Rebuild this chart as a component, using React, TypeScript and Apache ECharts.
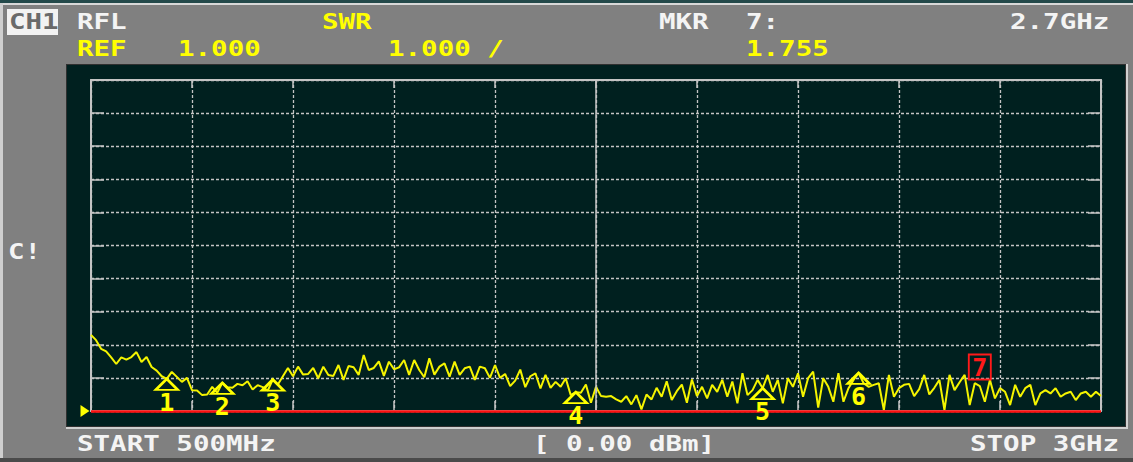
import React, { useEffect, useRef } from "react";
import * as echarts from "echarts";

// Sweep definition
const START_MHZ = 500;
const STOP_MHZ = 3000;
const STEP_MHZ = 12.5;
const X_DIV_MHZ = 250;

// SWR scale
const REF_VALUE = 1.0;
const Y_MAX = 11;
const Y_DIV = 1;

// Trace values (SWR), one per 12.5 MHz step, 500 MHz .. 3 GHz
const swrValues: number[] = [
  3.30, 3.14, 2.88, 2.80, 2.62, 2.42, 2.62, 2.55, 2.63, 2.78,
  2.48, 2.63, 2.33, 2.22, 2.05, 1.97, 2.18, 2.03, 1.88, 2.00,
  1.63, 1.62, 1.48, 1.50, 1.73, 1.55, 1.85, 1.72, 1.70, 1.82,
  1.78, 1.90, 1.65, 1.78, 1.72, 1.62, 1.95, 1.80, 2.05, 2.30,
  2.05, 2.34, 2.10, 2.12, 2.30, 1.99, 2.34, 2.09, 2.06, 2.39,
  1.94, 2.36, 2.32, 2.09, 2.69, 2.24, 2.30, 2.50, 2.06, 2.49,
  2.26, 2.32, 2.54, 2.09, 2.54, 2.24, 2.02, 2.59, 2.10, 2.34,
  2.44, 2.04, 2.49, 2.09, 2.29, 2.34, 1.94, 2.34, 2.29, 2.00,
  2.39, 2.00, 2.12, 1.75, 1.92, 2.25, 1.72, 2.05, 2.14, 1.68,
  2.09, 1.70, 1.88, 1.73, 1.99, 1.48, 1.57, 1.55, 1.80, 1.25,
  1.73, 1.45, 1.43, 1.45, 1.35, 1.28, 1.45, 1.20, 1.48, 1.05,
  1.50, 1.35, 1.70, 1.43, 1.90, 1.33, 1.60, 1.80, 1.25, 1.95,
  1.45, 1.73, 1.38, 1.79, 1.58, 1.94, 1.43, 1.89, 1.23, 2.14,
  1.48, 1.63, 1.94, 1.69, 2.09, 1.58, 1.94, 1.23, 1.99, 1.73,
  2.14, 1.43, 1.99, 2.19, 1.10, 1.99, 1.73, 1.28, 2.14, 1.28,
  1.69, 1.94, 2.15, 1.84, 1.73, 1.79, 1.84, 1.03, 2.09, 1.43,
  1.69, 1.79, 1.82, 1.45, 1.66, 2.09, 1.50, 1.70, 1.94, 1.03,
  2.09, 1.63, 1.87, 2.09, 1.18, 1.84, 1.755, 1.28, 1.94, 1.38,
  1.69, 1.58, 1.18, 1.79, 1.43, 1.69, 1.79, 1.18, 1.53, 1.63,
  1.53, 1.69, 1.43, 1.53, 1.58, 1.33, 1.53, 1.58, 1.43, 1.58,
  1.45,
];

// Markers
const markerFreqs: number[] = [687.5, 825, 950, 1700, 2162.5, 2400, 2700];
const markerNames: string[] = ["1", "2", "3", "4", "5", "6", "7"];
const ACTIVE_MARKER = "7";

// Header / footer texts
const TXT_CH = "CH1";
const TXT_MEAS = "RFL";
const TXT_FMT = "SWR";
const TXT_MKR = "MKR";
const TXT_MKR_NO = "7:";
const TXT_MKR_FREQ = "2.7GHz";
const TXT_REF = "REF";
const TXT_REF_VAL = "1.000";
const TXT_SCALE = "1.000 /";
const TXT_MKR_VAL = "1.755";
const TXT_START = "START 500MHz";
const TXT_POWER = "[ 0.00 dBm]";
const TXT_STOP = "STOP 3GHz";
const TXT_CAL = "C!";

const YELLOW = "#ffff00";
const TRACE = "#f4f400";
const WHITE = "#f4f4f4";
const GRID = "#c4c4c4";
const PANEL = "#00201f";
const BG = "#808080";
const FONT = '"DejaVu Sans Mono", monospace';

function txt(text: string, x: number, y: number, color: string, size = 21) {
  return {
    type: "text",
    x,
    y,
    scaleX: 1.31,
    z: 10,
    style: {
      text,
      fill: color,
      font: `bold ${size}px ${FONT}`,
      textAlign: "left",
      textVerticalAlign: "middle",
      verticalAlign: "middle",
    },
  };
}

export default function App() {
  const ref = useRef<HTMLDivElement>(null);

  useEffect(() => {
    if (!ref.current) return;
    const chart = echarts.init(ref.current, undefined, { renderer: "svg" });

    const traceData = swrValues.map((v, i) => [START_MHZ + i * STEP_MHZ, v]);
    const valueAt = (f: number) => swrValues[Math.round((f - START_MHZ) / STEP_MHZ)];

    const normalMarkers = markerFreqs
      .map((f, k) => ({ name: markerNames[k], value: [f, valueAt(f)] }))
      .filter((m) => m.name !== ACTIVE_MARKER);
    const activeMarkers = markerFreqs
      .map((f, k) => ({ name: markerNames[k], value: [f, valueAt(f)] }))
      .filter((m) => m.name === ACTIVE_MARKER);

    const axisCommon = {
      type: "value",
      axisLabel: { show: false },
      axisLine: { show: true, onZero: false, lineStyle: { color: GRID, width: 2 } },
      axisTick: { show: true, inside: true, length: 10, lineStyle: { color: GRID, width: 1.5 } },
    };

    const option: any = {
      animation: false,
      backgroundColor: BG,
      grid: { left: 91, right: 32, top: 80, bottom: 51, show: false },
      xAxis: [
        {
          ...axisCommon,
          min: START_MHZ,
          max: STOP_MHZ,
          interval: X_DIV_MHZ,
          position: "bottom",
          splitLine: { show: true, lineStyle: { color: GRID, type: [3, 2], width: 1.3 } },
        },
        {
          ...axisCommon,
          min: START_MHZ,
          max: STOP_MHZ,
          interval: X_DIV_MHZ,
          position: "top",
          axisTick: { ...axisCommon.axisTick, length: 8 },
          splitLine: { show: false },
        },
      ],
      yAxis: [
        {
          ...axisCommon,
          min: REF_VALUE,
          max: Y_MAX,
          interval: Y_DIV,
          position: "left",
          axisTick: { ...axisCommon.axisTick, length: 13 },
          splitLine: { show: true, lineStyle: { color: GRID, type: [3, 2], width: 1.3 } },
        },
        {
          ...axisCommon,
          min: REF_VALUE,
          max: Y_MAX,
          interval: Y_DIV,
          position: "right",
          axisTick: { ...axisCommon.axisTick, length: 13 },
          splitLine: { show: false },
        },
      ],
      graphic: [
        // outer bevels
        { type: "rect", z: -5, shape: { x: 0, y: 0, width: 1133, height: 3 }, style: { fill: "#23494a" } },
        { type: "rect", z: -5, shape: { x: 0, y: 3, width: 1133, height: 2 }, style: { fill: "#d8d8d8" } },
        { type: "rect", z: -5, shape: { x: 0, y: 3, width: 3, height: 459 }, style: { fill: "#cfcfcf" } },
        { type: "rect", z: -5, shape: { x: 0, y: 458, width: 1133, height: 4 }, style: { fill: "#4a4a4a" } },
        // plot panel
        { type: "rect", z: -5, shape: { x: 66, y: 64, width: 1062, height: 365 }, style: { fill: "#d0d0d0" } },
        { type: "rect", z: -5, shape: { x: 66, y: 64, width: 1060, height: 363 }, style: { fill: "#303030" } },
        { type: "rect", z: -4, shape: { x: 67, y: 65, width: 1058, height: 361 }, style: { fill: PANEL } },
        // CH1 box
        { type: "rect", z: 9, shape: { x: 7, y: 9, width: 51, height: 26 }, style: { fill: "#f2f2f2" } },
        txt(TXT_CH, 9, 22, "#6a6a6a"),
        txt(TXT_MEAS, 77, 22, WHITE),
        txt(TXT_FMT, 322, 22, YELLOW),
        txt(TXT_MKR, 659, 22, WHITE),
        txt(TXT_MKR_NO, 746, 22, WHITE),
        txt(TXT_MKR_FREQ, 1010, 22, WHITE),
        txt(TXT_REF, 77, 49, YELLOW),
        txt(TXT_REF_VAL, 178, 49, YELLOW),
        txt(TXT_SCALE, 388, 49, YELLOW),
        txt(TXT_MKR_VAL, 746, 49, YELLOW),
        txt(TXT_START, 77, 444, WHITE),
        txt(TXT_POWER, 533, 444, WHITE),
        txt(TXT_STOP, 970, 444, WHITE),
        txt(TXT_CAL, 8, 252, WHITE),
      ],
      series: [
        {
          // centre graticule line (solid)
          type: "line",
          data: [],
          z: 1,
          silent: true,
          markLine: {
            silent: true,
            symbol: "none",
            label: { show: false },
            data: [{ xAxis: (START_MHZ + STOP_MHZ) / 2 }],
            lineStyle: { color: GRID, type: "solid", width: 1.5 },
          },
        },
        {
          type: "line",
          data: traceData,
          showSymbol: false,
          symbol: "none",
          z: 3,
          lineStyle: { color: TRACE, width: 2 },
        },
        {
          // reference line at REF value
          type: "line",
          data: [],
          z: 4,
          silent: true,
          markLine: {
            silent: true,
            symbol: "none",
            label: { show: false },
            data: [{ yAxis: REF_VALUE }],
            lineStyle: { color: "#ff1010", type: "solid", width: 2.5 },
          },
        },
        {
          // reference position pointer
          type: "scatter",
          data: [[START_MHZ, REF_VALUE]],
          symbol: "triangle",
          symbolSize: [12, 9],
          symbolRotate: -90,
          symbolOffset: [-6, 0],
          itemStyle: { color: YELLOW, opacity: 1 },
          z: 5,
        },
        {
          type: "scatter",
          data: normalMarkers,
          symbol: "triangle",
          symbolSize: [22, 11],
          symbolOffset: [0, 5.5],
          z: 6,
          itemStyle: { color: "rgba(0,0,0,0)", borderColor: YELLOW, borderWidth: 2.5, opacity: 1 },
          label: {
            show: true,
            position: "bottom",
            distance: -1,
            formatter: (p: any) => p.name,
            color: YELLOW,
            fontSize: 25,
            fontWeight: "bold",
            fontFamily: FONT,
          },
        },
        {
          type: "scatter",
          data: activeMarkers,
          symbol: "rect",
          symbolSize: [22, 25],
          symbolOffset: [0, -19],
          z: 6,
          itemStyle: { color: "rgba(0,0,0,0)", borderColor: "#ff1a1a", borderWidth: 2, opacity: 1 },
          label: {
            show: true,
            position: "inside",
            formatter: (p: any) => p.name,
            color: "#ff1a1a",
            fontSize: 25,
            fontWeight: "bold",
            fontFamily: FONT,
          },
        },
      ],
    };

    chart.setOption(option);
    return () => chart.dispose();
  }, []);

  return (
    <div
      ref={ref}
      style={{ position: "absolute", left: 0, top: 0, width: 1133, height: 462 }}
    />
  );
}
